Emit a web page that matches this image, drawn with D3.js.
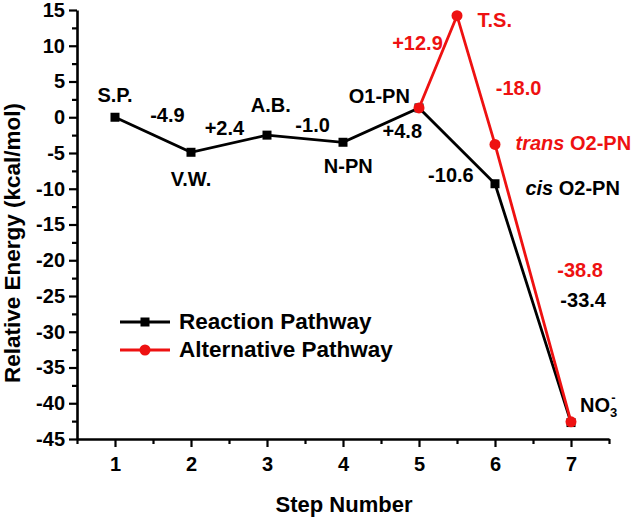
<!DOCTYPE html>
<html>
<head>
<meta charset="utf-8">
<script src="https://cdn.jsdelivr.net/npm/d3@7"></script>
<style>
  html, body { margin: 0; padding: 0; background: #fff; }
  svg text { font-family: "Liberation Sans", Arial, sans-serif; font-weight: bold; }
</style>
</head>
<body>
<svg id="chart" width="633" height="518"></svg>
<script>
// ---- data ----
const steps = [1, 2, 3, 4, 5, 6, 7];
const reactionEnergy = [0, -4.9, -2.5, -3.5, 1.3, -9.3, -42.7];
const altSteps = [5, 5.5, 6, 7];
const altEnergy = [1.3, 14.2, -3.8, -42.6];
const yTickValues = [15, 10, 5, 0, -5, -10, -15, -20, -25, -30, -35, -40, -45];
const xTickValues = [1, 2, 3, 4, 5, 6, 7];
const seriesNames = ["Reaction Pathway", "Alternative Pathway"];

// annotation labels anchored in data coordinates (step, energy)
const blackLabels = [
  { t: "S.P.", s: 1.0, e: 2.1, a: "middle" },
  { t: "-4.9", s: 1.69, e: -0.7, a: "middle" },
  { t: "V.W.", s: 2.0, e: -9.6, a: "middle" },
  { t: "+2.4", s: 2.44, e: -2.52, a: "middle" },
  { t: "A.B.", s: 3.05, e: 0.7, a: "middle" },
  { t: "-1.0", s: 3.6, e: -2.1, a: "middle" },
  { t: "N-PN", s: 4.07, e: -7.83, a: "middle" },
  { t: "O1-PN", s: 4.88, e: 1.96, a: "end" },
  { t: "+4.8", s: 4.78, e: -2.9, a: "middle" },
  { t: "-10.6", s: 5.42, e: -9.08, a: "middle" },
  { t: "-33.4", s: 7.16, e: -26.55, a: "middle" }
];
const redLabels = [
  { t: "+12.9", s: 4.98, e: 9.36, a: "middle" },
  { t: "T.S.", s: 5.77, e: 12.58, a: "start" },
  { t: "-18.0", s: 6.31, e: 3.07, a: "middle" },
  { t: "-38.8", s: 7.12, e: -22.36, a: "middle" }
];

// ---- setup ----
const svg = d3.select("#chart");
const black = "#000000";
const red = "#ee1111";

const x = d3.scaleLinear().domain([0.5, 7.5]).range([77, 609]);
const y = d3.scaleLinear().domain([-45, 15]).range([439, 10]);
const fmt = d => String(d);

// axes
const xMinor = d3.range(0.5, 7.51, 0.5).filter(v => !Number.isInteger(v));
const yMinor = d3.range(-42.5, 15, 5);

const gx = svg.append("g").attr("transform", `translate(0,${y(-45)})`);
gx.call(d3.axisBottom(x).tickValues(xMinor).tickSize(5).tickSizeOuter(0).tickFormat(""));
gx.call(g => g.selectAll(".domain").remove());
const gx2 = svg.append("g").attr("transform", `translate(0,${y(-45)})`);
gx2.call(d3.axisBottom(x).tickValues(xTickValues).tickSize(8).tickPadding(10).tickSizeOuter(0).tickFormat(fmt));

const gy = svg.append("g").attr("transform", `translate(${x(0.5)},0)`);
gy.call(d3.axisLeft(y).tickValues(yMinor).tickSize(5).tickSizeOuter(0).tickFormat(""));
gy.call(g => g.selectAll(".domain").remove());
const gy2 = svg.append("g").attr("transform", `translate(${x(0.5)},0)`);
gy2.call(d3.axisLeft(y).tickValues(yTickValues).tickSize(8).tickPadding(4).tickSizeOuter(0).tickFormat(fmt));

svg.selectAll(".domain").attr("stroke", black).attr("stroke-width", 2.6);
svg.selectAll(".tick line").attr("stroke", black).attr("stroke-width", 2.2);
svg.selectAll(".tick text").attr("fill", black).style("font-size", "20px")
   .style("font-family", '"Liberation Sans", Arial, sans-serif').style("font-weight", "bold");

// axis titles
svg.append("text").attr("x", 344).attr("y", 512).attr("text-anchor", "middle")
  .style("font-size", "22px").attr("fill", black).text("Step Number");
svg.append("text").attr("transform", "translate(20,243) rotate(-90)").attr("text-anchor", "middle")
  .style("font-size", "22.5px").attr("fill", black).text("Relative Energy (kcal/mol)");

// lines
const line = d3.line().x(d => x(d[0])).y(d => y(d[1]));
const reaction = steps.map((s, i) => [s, reactionEnergy[i]]);
const alt = altSteps.map((s, i) => [s, altEnergy[i]]);

svg.append("path").datum(reaction).attr("d", line).attr("fill", "none")
  .attr("stroke", black).attr("stroke-width", 2.8);
svg.selectAll("rect.pt").data(reaction).enter().append("rect").attr("class", "pt")
  .attr("x", d => x(d[0]) - 4.5).attr("y", d => y(d[1]) - 4.5)
  .attr("width", 9).attr("height", 9).attr("fill", black);

svg.append("path").datum(alt).attr("d", line).attr("fill", "none")
  .attr("stroke", red).attr("stroke-width", 2.8);
svg.selectAll("circle.pt").data(alt).enter().append("circle").attr("class", "pt")
  .attr("cx", d => x(d[0])).attr("cy", d => y(d[1])).attr("r", 5.5).attr("fill", red);

// annotations
function addLabels(arr, color) {
  svg.selectAll(null).data(arr).enter().append("text")
    .attr("x", d => x(d.s)).attr("y", d => y(d.e))
    .attr("text-anchor", d => d.a).attr("fill", color)
    .style("font-size", "20px").text(d => d.t);
}
addLabels(blackLabels, black);
addLabels(redLabels, red);

// labels with mixed styling
const trans = svg.append("text").attr("x", x(6.27)).attr("y", y(-4.61)).attr("fill", red).style("font-size", "20px");
trans.append("tspan").style("font-style", "italic").text("trans");
trans.append("tspan").text(" O2-PN");

const cis = svg.append("text").attr("x", x(6.4)).attr("y", y(-10.9)).attr("fill", black).style("font-size", "20px");
cis.append("tspan").style("font-style", "italic").text("cis");
cis.append("tspan").text(" O2-PN");

const no3 = svg.append("text").attr("x", x(7.12)).attr("y", y(-41.23)).attr("fill", black).style("font-size", "20px");
no3.append("tspan").text("NO");
no3.append("tspan").attr("dy", 5).style("font-size", "13px").text("3");
no3.append("tspan").attr("dx", -6).attr("dy", -15).style("font-size", "13px").text("-");

// legend
const legend = svg.append("g");
const legendRows = [
  { name: seriesNames[0], color: black, shape: "square", cy: 322 },
  { name: seriesNames[1], color: red, shape: "circle", cy: 350 }
];
legendRows.forEach(r => {
  legend.append("line").attr("x1", 120).attr("x2", 170).attr("y1", r.cy).attr("y2", r.cy)
    .attr("stroke", r.color).attr("stroke-width", 2.8);
  if (r.shape === "square") {
    legend.append("rect").attr("x", 145 - 4.5).attr("y", r.cy - 4.5).attr("width", 9).attr("height", 9).attr("fill", r.color);
  } else {
    legend.append("circle").attr("cx", 145).attr("cy", r.cy).attr("r", 5.5).attr("fill", r.color);
  }
  legend.append("text").attr("x", 179).attr("y", r.cy + 6.5).attr("fill", black)
    .style("font-size", "22.5px").text(r.name);
});
</script>
</body>
</html>
